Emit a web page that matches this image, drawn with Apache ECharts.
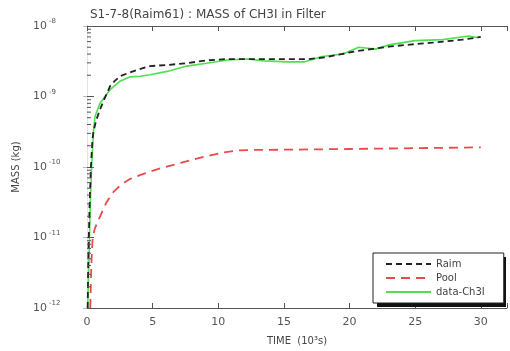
<!DOCTYPE html>
<html>
<head>
<meta charset="utf-8">
<script src="https://cdn.jsdelivr.net/npm/echarts@6/dist/echarts.min.js"></script>
<style>html,body{margin:0;padding:0;background:#fff}#c{width:510px;height:351px}</style>
</head>
<body>
<div id="c"></div>
<script>
// ---- data (time in 10^3 s, mass in kg) ----
const raimTime = [0.05, 0.1, 0.2, 0.3, 0.4, 0.48, 0.7, 1.0, 1.3, 1.76, 2.1, 2.5, 3.0, 3.5, 4.2, 4.8, 6.1, 7.6, 9.1, 10.7, 12.0, 13.5, 15.0, 16.9, 18.2, 19.4, 20.5, 21.8, 23.0, 24.6, 26.3, 27.5, 28.6, 30.0];
const raimMass = [1e-12, 5e-12, 3e-11, 1e-10, 2.2e-10, 3.1e-10, 4.6e-10, 6.6e-10, 9.0e-10, 1.4e-9, 1.65e-9, 1.93e-9, 2.1e-9, 2.27e-9, 2.5e-9, 2.7e-9, 2.8e-9, 2.97e-9, 3.25e-9, 3.4e-9, 3.4e-9, 3.4e-9, 3.4e-9, 3.4e-9, 3.6e-9, 4.0e-9, 4.4e-9, 4.75e-9, 5.1e-9, 5.45e-9, 5.8e-9, 6.1e-9, 6.4e-9, 7.0e-9];

const poolTime = [0.25, 0.3, 0.35, 0.43, 0.6, 1.0, 1.5, 2.0, 2.6, 3.3, 4.3, 5.6, 7.2, 8.8, 10.3, 11.5, 13.0, 15.0, 20.0, 25.0, 30.0];
const poolMass = [1e-12, 2.5e-12, 5e-12, 9.8e-12, 1.35e-11, 2.0e-11, 3.2e-11, 4.4e-11, 5.6e-11, 6.8e-11, 8.0e-11, 9.6e-11, 1.15e-10, 1.38e-10, 1.6e-10, 1.72e-10, 1.75e-10, 1.76e-10, 1.8e-10, 1.85e-10, 1.9e-10];

const dataTime = [0.05, 0.15, 0.25, 0.35, 0.5, 0.61, 1.0, 1.76, 2.5, 3.3, 4.05, 4.8, 6.1, 7.6, 9.1, 10.7, 12.2, 13.5, 15.3, 16.6, 17.9, 19.5, 20.7, 22.0, 23.0, 25.0, 27.1, 29.1, 29.8];
const dataMass = [1e-12, 5e-12, 3e-11, 1e-10, 3.3e-10, 5.2e-10, 8.1e-10, 1.25e-9, 1.64e-9, 1.9e-9, 1.94e-9, 2.04e-9, 2.27e-9, 2.7e-9, 2.97e-9, 3.3e-9, 3.4e-9, 3.2e-9, 3.1e-9, 3.1e-9, 3.7e-9, 4.0e-9, 5.0e-9, 4.7e-9, 5.4e-9, 6.2e-9, 6.4e-9, 7.2e-9, 6.8e-9];

const seriesNames = ['Raim', 'Pool', 'data-Ch3I'];
const xTicks = [0, 5, 10, 15, 20, 25, 30];
const yDecades = [-12, -11, -10, -9, -8];

// ---- build ----
const pairs = (xs, ys) => xs.map((x, i) => [x, ys[i]]);
const minorVals = [];
for (let e = yDecades[0]; e < yDecades[yDecades.length - 1]; e++) {
  for (let m = 2; m <= 9; m++) minorVals.push([0, m * Math.pow(10, e)]);
}
const axisCol = '#555';
const labelFont = 'DejaVu Sans';

const chart = echarts.init(document.getElementById('c'), null, {renderer: 'canvas'});
chart.setOption({
  animation: false,
  backgroundColor: '#fff',
  title: {
    text: 'S1-7-8(Raim61) : MASS of CH3I in Filter',
    left: 85, top: 4,
    textStyle: {fontSize: 12, fontWeight: 'normal', color: '#444', fontFamily: labelFont}
  },
  grid: {left: 87, right: 2, top: 26, bottom: 41, containLabel: false},
  graphic: [{
    type: 'rect', left: 377, top: 257, z: 50,
    shape: {width: 129, height: 50},
    style: {fill: '#111'}
  }],
  legend: {
    data: seriesNames,
    orient: 'vertical',
    left: 373, top: 253, z: 60,
    itemWidth: 45, itemHeight: 10, itemGap: 4,
    padding: [6, 19, 6, 12],
    backgroundColor: '#fff',
    borderColor: '#222', borderWidth: 1,
    itemStyle: {opacity: 0},
    textStyle: {fontSize: 10, color: '#444', fontFamily: labelFont}
  },
  xAxis: [{
    type: 'value', min: 0, max: 32, interval: 5, position: 'bottom',
    name: 'TIME  (10³s)', nameLocation: 'middle', nameGap: 28,
    nameTextStyle: {fontSize: 10, color: '#444', fontFamily: labelFont},
    axisLine: {lineStyle: {color: axisCol, width: 1}},
    axisTick: {inside: true, length: 5, lineStyle: {color: axisCol}},
    axisLabel: {
      fontSize: 11, color: '#555', fontFamily: labelFont, margin: 9,
      formatter: v => (xTicks.indexOf(v) >= 0 ? String(v) : '')
    },
    splitLine: {show: false}
  }, {
    type: 'value', min: 0, max: 32, interval: 5, position: 'top',
    axisLine: {lineStyle: {color: axisCol, width: 1}},
    axisTick: {inside: true, length: 5, lineStyle: {color: axisCol}},
    axisLabel: {show: false},
    splitLine: {show: false}
  }],
  yAxis: [{
    type: 'log', logBase: 10, min: 1e-12, max: 1e-8, position: 'left',
    name: 'MASS (kg)', nameLocation: 'middle', nameGap: 66, nameRotate: 90,
    nameTextStyle: {fontSize: 10, color: '#444', fontFamily: labelFont},
    axisLine: {show: true, lineStyle: {color: axisCol, width: 1}},
    axisTick: {inside: true, length: 7, lineStyle: {color: axisCol}},
    axisLabel: {
      margin: 54, align: 'left', color: '#555', fontFamily: labelFont,
      formatter: v => {
        const e = Math.round(Math.log10(v));
        return '{b|10}{s|-' + (-e) + '}';
      },
      rich: {
        b: {fontSize: 11, color: '#555', fontFamily: labelFont},
        s: {fontSize: 7, color: '#555', fontFamily: labelFont, padding: [0, 0, 9, 2]}
      }
    },
    splitLine: {show: false}
  }, {
    type: 'log', logBase: 10, min: 1e-12, max: 1e-8, position: 'right',
    axisLine: {show: true, lineStyle: {color: '#e4e4e4', width: 1}},
    axisTick: {inside: true, length: 4, lineStyle: {color: '#bbb'}},
    axisLabel: {show: false},
    splitLine: {show: false}
  }],
  series: [{
    name: seriesNames[0], type: 'line', symbol: 'none', xAxisIndex: 0, yAxisIndex: 0,
    data: pairs(raimTime, raimMass),
    lineStyle: {color: '#222', width: 1.8, type: [6, 4]},
    itemStyle: {color: '#222'}, z: 3
  }, {
    name: seriesNames[1], type: 'line', symbol: 'none', xAxisIndex: 0, yAxisIndex: 0,
    data: pairs(poolTime, poolMass),
    lineStyle: {color: '#ea4a4a', width: 1.8, type: [9, 6]},
    itemStyle: {color: '#ea4a4a'}, z: 3
  }, {
    name: seriesNames[2], type: 'line', symbol: 'none', xAxisIndex: 0, yAxisIndex: 0,
    data: pairs(dataTime, dataMass),
    lineStyle: {color: '#4fe04f', width: 1.6},
    itemStyle: {color: '#4fe04f'}, z: 2
  }, {
    name: 'minorTicks', type: 'custom', xAxisIndex: 0, yAxisIndex: 0, silent: true, clip: false,
    data: minorVals,
    renderItem: (params, api) => {
      const p = api.coord([0, api.value(1)]);
      return {type: 'line', shape: {x1: p[0], y1: p[1], x2: p[0] + 4, y2: p[1]},
              style: {stroke: axisCol, lineWidth: 1}};
    },
    z: 5
  }]
});
</script>
</body>
</html>
